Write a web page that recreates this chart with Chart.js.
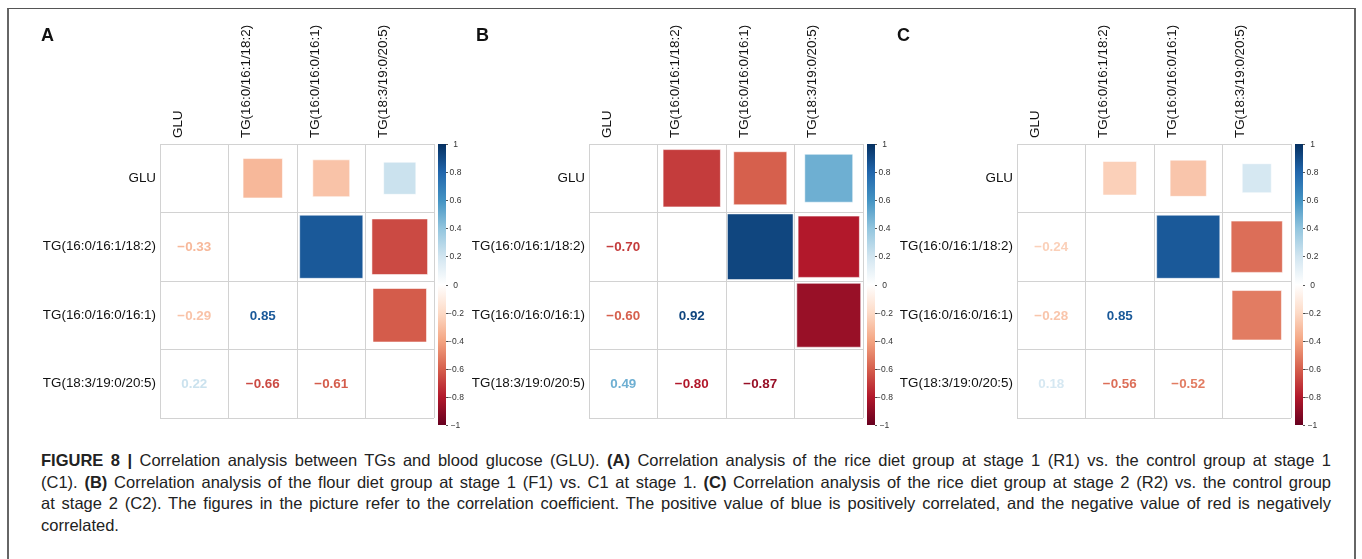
<!DOCTYPE html>
<html>
<head>
<meta charset="utf-8">
<script src="https://cdn.jsdelivr.net/npm/chart.js@4/dist/chart.umd.min.js"></script>
<style>
  html, body { margin: 0; padding: 0; background: #fff; }
  #wrap { position: relative; width: 1362px; height: 559px; overflow: hidden; font-family: "Liberation Sans", Arial, sans-serif; }
  #frame { position: absolute; left: 7px; top: 8px; width: 1345px; height: 620px; border-top: 1px solid #555; border-left: 2px solid #666; border-right: 2px solid #666; }
  canvas { position: absolute; top: 0; background: transparent; }
  .letter { position: absolute; top: 25.6px; font-weight: bold; font-size: 18px; line-height: 18px; color: #111; }
  #caption { position: absolute; left: 41px; top: 450px; width: 1290px; font-size: 15px; line-height: 21.7px; color: #222; }
  #caption .ln { white-space: nowrap; text-align: justify; text-align-last: justify; }
  #caption .last { text-align-last: left; }
  #measure { position: absolute; visibility: hidden; white-space: nowrap; font-size: 15px; }
</style>
</head>
<body>
<div id="wrap">
  <div id="frame"></div>
  <canvas id="cA"></canvas>
  <canvas id="cB"></canvas>
  <canvas id="cC"></canvas>
  <div class="letter" style="left:41px">A</div>
  <div class="letter" style="left:476px">B</div>
  <div class="letter" style="left:897px">C</div>
  <div id="caption">
    <div class="ln"><b>FIGURE 8 |</b> Correlation analysis between TGs and blood glucose (GLU). <b>(A)</b> Correlation analysis of the rice diet group at stage 1 (R1) vs. the control group at stage 1</div>
    <div class="ln">(C1). <b>(B)</b> Correlation analysis of the flour diet group at stage 1 (F1) vs. C1 at stage 1. <b>(C)</b> Correlation analysis of the rice diet group at stage 2 (R2) vs. the control group</div>
    <div class="ln">at stage 2 (C2). The figures in the picture refer to the correlation coefficient. The positive value of blue is positively correlated, and the negative value of red is negatively</div>
    <div class="ln last">correlated.</div>
  </div>
  <span id="measure"></span>
</div>
<script>
// ---- data ----
const varLabels = ['GLU', 'TG(16:0/16:1/18:2)', 'TG(16:0/16:0/16:1)', 'TG(18:3/19:0/20:5)'];
// pairs (row index, column index) in the upper triangle
const pairRow = [0, 0, 0, 1, 1, 2];
const pairCol = [1, 2, 3, 2, 3, 3];
const corrA = [-0.33, -0.29, 0.22, 0.85, -0.66, -0.61];
const corrB = [-0.70, -0.60, 0.49, 0.92, -0.80, -0.87];
const corrC = [-0.24, -0.28, 0.18, 0.85, -0.56, -0.52];
const colorbarTicks = [1, 0.8, 0.6, 0.4, 0.2, 0, -0.2, -0.4, -0.6, -0.8, -1];
const rdbu = ['#67001F', '#B2182B', '#D6604D', '#F4A582', '#FDDBC7', '#FFFFFF', '#D1E5F0', '#92C5DE', '#4393C3', '#2166AC', '#053061'];

const FONT = '"Liberation Sans", Arial, sans-serif';

// fit caption font so that the widest line nearly fills the text block
(function fitCaption() {
  const m = document.getElementById('measure');
  let maxW = 0;
  document.querySelectorAll('#caption .ln').forEach(el => {
    m.innerHTML = el.innerHTML;
    maxW = Math.max(maxW, m.getBoundingClientRect().width);
  });
  const size = Math.min(16.5, 15 * 1275 / maxW);
  document.getElementById('caption').style.fontSize = size.toFixed(2) + 'px';
})();

function hexToRgb(h) { return [parseInt(h.slice(1,3),16), parseInt(h.slice(3,5),16), parseInt(h.slice(5,7),16)]; }
function corrColor(r) {
  const n = rdbu.length;
  const t = (r + 1) / 2 * (n - 1);
  const i = Math.min(Math.floor(t), n - 2);
  const f = t - i;
  const a = hexToRgb(rdbu[i]), b = hexToRgb(rdbu[i + 1]);
  const c = a.map((v, k) => Math.round(v + (b[k] - v) * f));
  return 'rgb(' + c.join(',') + ')';
}
function fmtCorr(r) { return (r < 0 ? '\u2212' : '') + Math.abs(r).toFixed(2); }
function fmtTick(t) { return t === 0 ? '0' : (t < 0 ? '\u2212' : '') + String(Math.abs(t)); }

function makeNumbersPlugin(vals) {
  return {
    id: 'corrNumbers',
    afterDatasetsDraw(chart) {
      const xs = chart.scales.x, ys = chart.scales.y, c = chart.ctx;
      c.save();
      c.font = 'bold 13.4px ' + FONT;
      c.textAlign = 'center';
      c.textBaseline = 'middle';
      vals.forEach((v, k) => {
        // lower triangle: row = pairCol, column = pairRow
        const x = xs.getPixelForValue(pairRow[k]);
        const y = ys.getPixelForValue(pairCol[k]);
        c.fillStyle = corrColor(v);
        c.fillText(fmtCorr(v), x, y + 1);
      });
      c.restore();
    }
  };
}

const colorbarPlugin = {
  id: 'colorbar',
  afterDraw(chart) {
    const a = chart.chartArea, c = chart.ctx;
    const x0 = a.right + 4, w = 8, top = a.top, bottom = a.top + 281;
    c.save();
    const g = c.createLinearGradient(0, top, 0, bottom);
    rdbu.forEach((col, k) => g.addColorStop(1 - k / (rdbu.length - 1), col));
    c.fillStyle = g;
    c.fillRect(x0, top, w, bottom - top);
    c.strokeStyle = '#555';
    c.lineWidth = 1;
    c.font = '8.5px ' + FONT;
    c.fillStyle = '#333';
    c.textAlign = 'center';
    c.textBaseline = 'middle';
    colorbarTicks.forEach(t => {
      const y = Math.round(top + (1 - t) / 2 * (bottom - top)) + 0.5;
      c.beginPath(); c.moveTo(x0 + w, y); c.lineTo(x0 + w + 2, y); c.stroke();
      c.fillText(fmtTick(t), x0 + w + 9.5, y);
    });
    c.restore();
  }
};

function makePanel(id, vals, gridLeft, canvasLeft, canvasWidth) {
  const H = 440, gridTop = 144, gridSize = 274;
  const canvas = document.getElementById(id);
  canvas.width = canvasWidth; canvas.height = H;
  canvas.style.width = canvasWidth + 'px'; canvas.style.height = H + 'px';
  canvas.style.left = canvasLeft + 'px';
  const yAxisWidth = gridLeft - canvasLeft;
  const padRight = canvasWidth - yAxisWidth - gridSize;
  const padBottom = H - gridTop - gridSize;
  const points = vals.map((v, k) => ({ x: varLabels[pairCol[k]], y: varLabels[pairRow[k]], v: v }));
  const gridColor = '#d2d2d2';
  const tickFont = { family: FONT, size: 13.4 };
  new Chart(canvas, {
    type: 'scatter',
    data: {
      datasets: [{
        data: points,
        pointStyle: 'rect',
        pointRadius: (ctx) => {
          const xs = ctx.chart.scales.x;
          if (!xs || !ctx.raw) return 0;
          const cell = Math.abs(xs.getPixelForValue(1) - xs.getPixelForValue(0));
          return cell * Math.sqrt(Math.abs(ctx.raw.v)) / Math.SQRT2;
        },
        backgroundColor: (ctx) => ctx.raw ? corrColor(ctx.raw.v) : '#fff',
        borderColor: 'rgba(255,255,255,0.55)',
        borderWidth: 1
      }]
    },
    options: {
      responsive: false,
      animation: false,
      devicePixelRatio: 1,
      events: [],
      layout: { padding: { left: 0, top: 0, right: padRight, bottom: padBottom } },
      plugins: { legend: { display: false }, tooltip: { enabled: false } },
      scales: {
        x: {
          type: 'category', labels: varLabels, position: 'top', offset: true,
          grid: { offset: true, color: gridColor, drawTicks: false, lineWidth: 1 },
          border: { color: gridColor },
          ticks: { minRotation: 90, maxRotation: 90, padding: 6, color: '#111', font: tickFont, autoSkip: false },
          afterFit: (s) => { s.height = gridTop; }
        },
        y: {
          type: 'category', labels: varLabels, position: 'left', offset: true,
          grid: { offset: true, color: gridColor, drawTicks: false, lineWidth: 1 },
          border: { color: gridColor },
          ticks: { padding: 4, color: '#111', font: tickFont, autoSkip: false },
          afterFit: (s) => { s.width = yAxisWidth; }
        }
      }
    },
    plugins: [makeNumbersPlugin(vals), colorbarPlugin]
  });
}

makePanel('cA', corrA, 160, 0, 480);
makePanel('cB', corrB, 589, 450, 455);
makePanel('cC', corrC, 1017, 890, 472);
</script>
</body>
</html>
